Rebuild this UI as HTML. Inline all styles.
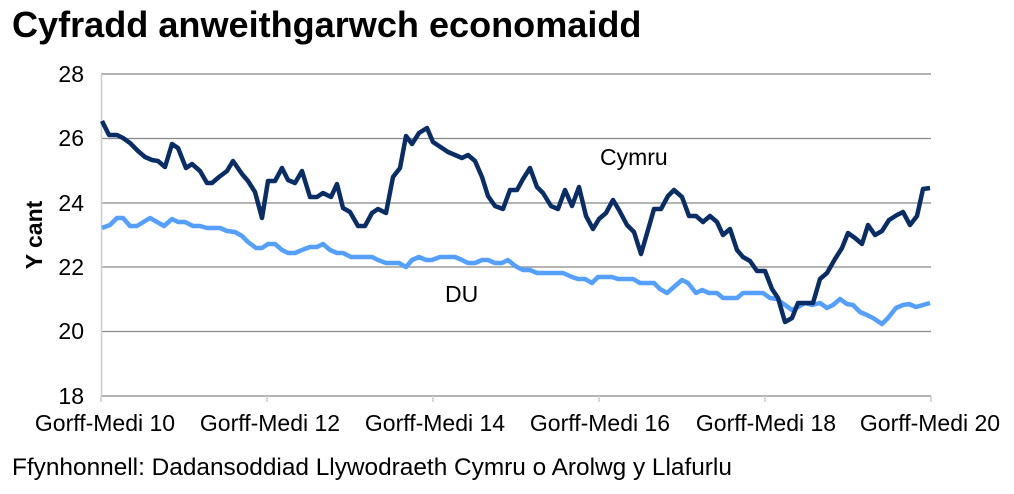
<!DOCTYPE html><html><head><meta charset="utf-8"><style>body{margin:0;background:#fff}svg{display:block}text{font-family:"Liberation Sans",sans-serif}</style></head><body>
<svg width="1014" height="494" viewBox="0 0 1014 494" xmlns="http://www.w3.org/2000/svg">
<text x="12" y="37" font-size="36.1" font-weight="bold" fill="#000">Cyfradd anweithgarwch economaidd</text>
<g stroke="#888" stroke-width="1.3">
<line x1="101" y1="74" x2="931" y2="74"/><line x1="101" y1="138.5" x2="931" y2="138.5"/><line x1="101" y1="203" x2="931" y2="203"/><line x1="101" y1="267" x2="931" y2="267"/><line x1="101" y1="331.5" x2="931" y2="331.5"/><line x1="101" y1="396" x2="931" y2="396"/>
</g>
<line x1="101.5" y1="74" x2="101.5" y2="396" stroke="#ccc" stroke-width="1.5"/>
<g stroke="#ccc" stroke-width="1.5"><line x1="101" y1="396" x2="101" y2="402"/><line x1="267" y1="396" x2="267" y2="402"/><line x1="433" y1="396" x2="433" y2="402"/><line x1="599" y1="396" x2="599" y2="402"/><line x1="765" y1="396" x2="765" y2="402"/><line x1="931" y1="396" x2="931" y2="402"/></g>
<g font-size="23" text-anchor="end" fill="#000"><text x="84" y="82">28</text><text x="84" y="146">26</text><text x="84" y="211">24</text><text x="84" y="275">22</text><text x="84" y="339">20</text><text x="84" y="404">18</text></g>
<text transform="translate(42,235) rotate(-90)" font-size="23" font-weight="bold" text-anchor="middle">Y cant</text>
<g font-size="23" text-anchor="middle"><text x="105" y="431">Gorff-Medi 10</text><text x="270" y="431">Gorff-Medi 12</text><text x="435" y="431">Gorff-Medi 14</text><text x="600" y="431">Gorff-Medi 16</text><text x="766" y="431">Gorff-Medi 18</text><text x="930" y="431">Gorff-Medi 20</text></g>
<text x="12" y="475" font-size="24.4">Ffynhonnell: Dadansoddiad Llywodraeth Cymru o Arolwg y Llafurlu</text>
<text x="600" y="165" font-size="23">Cymru</text>
<text x="445" y="302" font-size="23">DU</text>
<polyline fill="none" stroke="#55a0ff" stroke-width="4.5" stroke-linejoin="round" points="102,228 110,225 117,218 123,218 130,226 137,226 150,218 164,226 172,219 178,222 185,222 193,226 200,226 207,228 220,228 227,231 235,232 242,236 248,242 256,248 262,248 268,244 275,244 282,250 288,253 295,253 302,250 310,247 317,247 323,244 330,250 337,253 343,253 351,257 372,257 378,260 386,263 399,263 406,267 412,260 419,257 426,260 432,260 440,257 455,257 462,260 468,263 475,263 482,260 488,260 495,263 502,263 508,260 514,265 517,267 523,270 530,270 537,273 563,273 572,277 578,279 585,279 592,283 598,277 612,277 618,279 633,279 640,283 654,283 660,289 667,293 675,286 682,280 688,283 696,293 702,290 709,293 717,293 723,298 737,298 743,293 763,293 770,298 777,299 785,305 792,310 798,307 805,303 812,305 820,303 827,308 833,305 840,299 847,304 853,305 860,312 867,315 873,318 882,324 888,318 896,308 903,305 909,304 916,307 923,305 930,303"/>
<polyline fill="none" stroke="#0a2d66" stroke-width="4.5" stroke-linejoin="round" points="102,121 109,135 117,135 123,138 130,143 138,151 145,157 152,160 158,161 165,167 172,144 178,148 186,168 192,164 200,171 207,183 212,183 219,177 227,171 233,161 242,174 248,181 255,192 262,218 268,181 275,181 282,168 288,180 295,183 302,171 310,197 317,197 323,193 331,197 337,184 343,208 350,212 358,226 365,226 372,213 378,209 386,213 393,177 400,168 406,136 412,144 419,133 427,128 433,142 442,148 448,152 455,155 462,158 468,155 475,161 482,177 488,196 495,206 503,209 510,190 517,190 523,179 530,168 537,187 543,193 551,206 558,209 565,190 572,206 579,187 586,216 593,229 599,219 606,213 613,200 619,210 627,225 634,232 641,254 648,230 654,209 661,209 668,196 674,190 682,197 689,216 696,216 703,222 710,216 717,222 723,235 730,229 737,250 743,257 750,261 757,271 765,271 772,289 778,298 785,322 792,318 798,303 805,303 813,303 820,279 827,273 835,259 842,248 848,233 855,238 862,244 868,225 875,235 882,231 889,220 897,215 903,212 910,225 917,216 923,189 930,188"/>
</svg></body></html>
